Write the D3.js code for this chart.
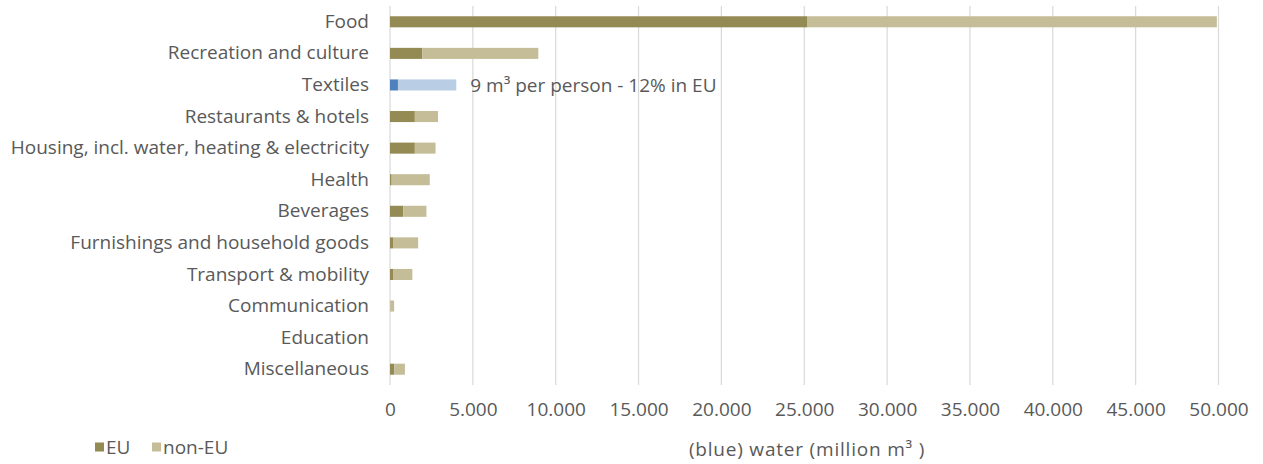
<!DOCTYPE html>
<html>
<head>
<meta charset="utf-8">
<script src="https://cdn.jsdelivr.net/npm/d3@7"></script>
<style>
  html, body { margin: 0; padding: 0; background: #fff; }
  svg text { font-family: "Open Sans", sans-serif; fill: #595959; }
</style>
</head>
<body>
<svg id="chart" width="1263" height="464"></svg>
<script>
// Blue water use by consumption category (million m³)
const categories = [
  "Food", "Recreation and culture", "Textiles", "Restaurants & hotels",
  "Housing, incl. water, heating & electricity", "Health", "Beverages",
  "Furnishings and household goods", "Transport & mobility",
  "Communication", "Education", "Miscellaneous"
];
const euValues    = [25200, 1950, 480, 1500, 1500, 100, 800, 180, 180, 20, 0, 260];
const nonEuValues = [24700, 7000, 3520, 1400, 1250, 2300, 1400, 1520, 1170, 230, 0, 640];
const xTicks = [0, 5000, 10000, 15000, 20000, 25000, 30000, 35000, 40000, 45000, 50000];
const seriesNames = ["EU", "non-EU"];
const highlight = "Textiles";
const highlightNote = "9 m³ per person - 12% in EU";
const axisTitle = "(blue) water (million m³ )";

const colors = { eu: "#948A54", nonEu: "#C4BD97", euHi: "#4F81BD", nonEuHi: "#B9CDE5" };

const svg = d3.select("#chart");
const plot = { left: 390, right: 1218.5, top: 6, bottom: 385 };
const fontSize = "19px";

const x = d3.scaleLinear().domain([0, 50000]).range([plot.left, plot.right]);
const y = d3.scaleBand().domain(categories).range([plot.top, plot.bottom]).paddingInner(0.65).paddingOuter(0.325);

// vertical gridlines
svg.append("g").selectAll("line").data(xTicks).join("line")
  .attr("x1", d => x(d)).attr("x2", d => x(d))
  .attr("y1", plot.top).attr("y2", plot.bottom)
  .attr("stroke", "#d9d9d9").attr("stroke-width", 1.2);

// x tick labels
const fmt = d => d === 0 ? "0" : d3.format(",")(d).replace(/,/g, ".");
const xAxis = d3.axisBottom(x).tickValues(xTicks).tickFormat(fmt).tickSize(0).tickPadding(18);
const gx = svg.append("g").attr("transform", `translate(0,${plot.bottom})`).call(xAxis);
gx.select(".domain").remove();
gx.selectAll("text").style("font-size", fontSize).attr("fill", "#595959")
  .style("font-family", "'Open Sans', sans-serif");

// category labels
const yAxis = d3.axisLeft(y).tickSize(0).tickPadding(21);
const gy = svg.append("g").attr("transform", `translate(${plot.left},0)`).call(yAxis);
gy.select(".domain").remove();
gy.selectAll("text").style("font-size", fontSize).attr("fill", "#595959")
  .style("font-family", "'Open Sans', sans-serif");

// stacked bars
const rows = categories.map((c, i) => ({ c, eu: euValues[i], non: nonEuValues[i] }));
const bars = svg.append("g");
bars.selectAll("rect.eu").data(rows).join("rect").attr("class", "eu")
  .attr("x", x(0)).attr("y", d => y(d.c))
  .attr("width", d => x(d.eu) - x(0)).attr("height", y.bandwidth())
  .attr("fill", d => d.c === highlight ? colors.euHi : colors.eu);
bars.selectAll("rect.non").data(rows).join("rect").attr("class", "non")
  .attr("x", d => x(d.eu)).attr("y", d => y(d.c))
  .attr("width", d => x(d.eu + d.non) - x(d.eu)).attr("height", y.bandwidth())
  .attr("fill", d => d.c === highlight ? colors.nonEuHi : colors.nonEu);

// note beside the highlighted bar
const hi = rows.find(r => r.c === highlight);
svg.append("text")
  .attr("x", x(hi.eu + hi.non) + 14).attr("y", y(highlight) + y.bandwidth() / 2)
  .attr("dy", "0.35em").style("font-size", fontSize).text(highlightNote);

// axis title
svg.append("text").attr("x", 807).attr("y", 449).attr("dy", "0.35em")
  .attr("text-anchor", "middle").style("font-size", fontSize)
  .style("letter-spacing", "0.8px").text(axisTitle);

// legend
const legend = svg.append("g").attr("transform", "translate(95,447)");
const lx = [0, 57];
seriesNames.forEach((n, i) => {
  const g = legend.append("g").attr("transform", `translate(${lx[i]},0)`);
  g.append("rect").attr("x", 0).attr("y", -4.5).attr("width", 9).attr("height", 9)
    .attr("fill", i === 0 ? colors.eu : colors.nonEu);
  g.append("text").attr("x", 11).attr("y", 0).attr("dy", "0.35em")
    .style("font-size", fontSize).text(n);
});
</script>
</body>
</html>
